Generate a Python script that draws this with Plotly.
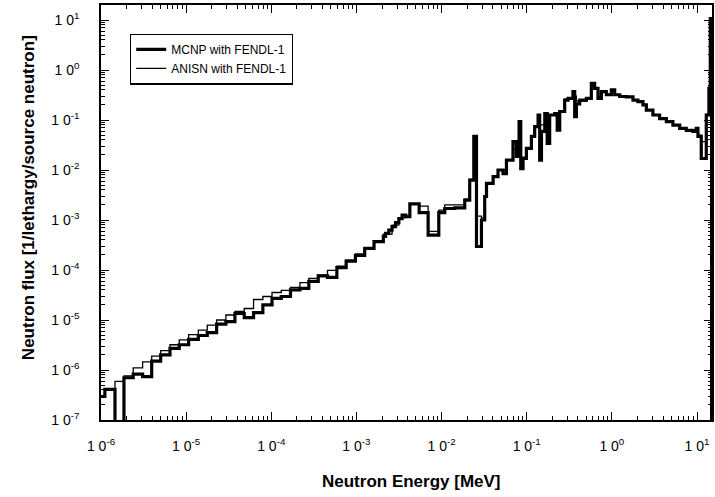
import plotly.graph_objects as go

# ---- data (energy bin edges in MeV, flux per bin) ----
mcnp_edges = [
    1.0e-6, 1.11e-6, 1.46e-6, 1.86e-6, 2.39e-6, 3.08e-6, 3.94e-6, 5.02e-6, 6.46e-6, 8.30e-6,
    1.07e-5, 1.39e-5, 1.77e-5, 2.28e-5, 2.93e-5, 3.74e-5, 4.81e-5, 6.19e-5, 7.96e-5,
    1.02e-4, 1.31e-4, 1.68e-4, 2.17e-4, 2.76e-4, 3.56e-4, 4.57e-4, 5.89e-4, 7.57e-4, 9.73e-4,
    1.25e-3, 1.61e-3, 2.07e-3, 2.20e-3, 2.40e-3, 2.62e-3, 2.88e-3, 3.15e-3, 3.44e-3, 3.80e-3, 4.24e-3,
    5.45e-3, 6.95e-3, 9.27e-3, 1.09e-2, 1.43e-2, 1.87e-2, 2.14e-2, 2.39e-2, 2.57e-2, 2.94e-2,
    3.21e-2, 3.37e-2, 4.03e-2, 4.60e-2, 5.27e-2, 5.78e-2, 6.90e-2, 7.57e-2, 8.13e-2, 8.51e-2,
    9.06e-2, 9.91e-2,
    0.1135, 0.124, 0.136, 0.142, 0.149, 0.163, 0.174, 0.186, 0.213, 0.228, 0.244, 0.279,
    0.306, 0.349, 0.366, 0.383, 0.419, 0.502, 0.574, 0.628, 0.687, 0.753, 0.861, 0.986,
    1.079, 1.236, 1.479, 1.770, 2.023, 2.317, 2.541, 3.034, 3.639, 4.365, 5.212, 6.252,
    7.482, 8.954, 9.817, 10.26, 11.22, 12.85, 13.80, 14.32, 14.83, 20.0,
]
mcnp_flux = [
    2.95e-7, 4.1e-7, 1e-10, 7.0e-7, 8.3e-7, 7.4e-7, 1.5e-6, 2.0e-6, 2.7e-6,
    3.2e-6, 4.1e-6, 4.9e-6, 5.6e-6, 8.3e-6, 9.3e-6, 1.35e-5, 1.12e-5, 1.41e-5,
    2.0e-5, 2.7e-5, 2.95e-5, 4.0e-5, 4.3e-5, 5.9e-5, 7.6e-5, 7.1e-5, 1.12e-4, 1.51e-4,
    1.95e-4, 2.7e-4, 3.7e-4, 4.7e-4, 5.4e-4, 6.3e-4, 7.4e-4, 8.9e-4, 1.07e-3, 1.26e-3, 1.17e-3,
    2.1e-3, 1.41e-3, 5.0e-4, 1.41e-3, 1.7e-3, 1.75e-3, 2.5e-3, 6.3e-3, 4.7e-2, 2.95e-4,
    1.0e-3, 2.95e-3, 5.4e-3, 7.4e-3, 1.0e-2, 8.5e-3, 1.58e-2, 3.7e-2, 1.86e-2, 9.3e-2,
    1.07e-2, 1.7e-2,
    2.7e-2, 4.7e-2, 7.4e-2, 0.126, 1.58e-2, 5.9e-2, 0.135, 3.4e-2, 0.126, 0.135, 6.3e-2,
    0.148, 0.25, 0.27, 0.37, 0.117, 0.21, 0.25, 0.27, 0.54, 0.43, 0.27, 0.37, 0.32,
    0.40, 0.32, 0.295, 0.29, 0.25, 0.234, 0.20, 0.158, 0.126, 0.107, 0.093, 0.079,
    0.068, 0.062, 0.059, 0.068, 0.047, 0.017, 0.126, 0.43, 10.7, 1e-10,
]

anisn_edges = [
    1.0e-6, 1.11e-6, 1.46e-6, 1.86e-6, 2.39e-6, 3.08e-6, 3.94e-6, 5.02e-6, 6.46e-6, 8.30e-6,
    1.07e-5, 1.39e-5, 1.77e-5, 2.28e-5, 2.93e-5, 3.74e-5, 4.81e-5, 6.19e-5, 7.96e-5,
    1.02e-4, 1.31e-4, 1.68e-4, 2.17e-4, 2.76e-4, 3.56e-4, 4.57e-4, 5.89e-4, 7.57e-4, 9.73e-4,
    1.25e-3, 1.61e-3, 2.07e-3, 2.62e-3, 3.15e-3, 3.80e-3, 4.24e-3,
    5.45e-3, 6.95e-3, 9.27e-3, 1.09e-2, 1.87e-2, 2.14e-2, 2.39e-2, 2.57e-2, 2.94e-2, 3.21e-2,
    3.37e-2, 4.03e-2, 4.60e-2, 5.78e-2, 6.90e-2, 8.51e-2, 9.91e-2,
    0.1135, 0.124, 0.136, 0.163, 0.186, 0.244, 0.279, 0.349, 0.383, 0.502, 0.574, 0.628,
    0.687, 0.753, 0.861, 0.986,
    1.079, 1.236, 1.770, 2.023, 2.317, 2.541, 3.034, 3.639, 4.365, 5.212, 6.252, 7.482,
    8.954, 9.817, 10.26, 11.22, 12.85, 13.80, 14.32, 14.83, 20.0,
]
anisn_flux = [
    3.0e-7, 4.0e-7, 5.9e-7, 7.6e-7, 1.1e-6, 1.45e-6, 1.9e-6, 2.45e-6, 3.2e-6,
    4.0e-6, 5.1e-6, 6.3e-6, 7.9e-6, 1.0e-5, 1.26e-5, 1.48e-5, 1.7e-5, 2.57e-5,
    2.95e-5, 3.55e-5, 3.9e-5, 4.5e-5, 5.6e-5, 6.8e-5, 7.9e-5, 9.8e-5, 1.2e-4, 1.58e-4,
    2.1e-4, 2.8e-4, 3.8e-4, 5.2e-4, 7.9e-4, 1.12e-3, 1.2e-3,
    2.1e-3, 1.9e-3, 5.9e-4, 1.58e-3, 2.0e-3, 2.6e-3, 6.5e-3, 3.5e-2, 1.2e-3, 1.1e-3,
    3.0e-3, 5.6e-3, 7.6e-3, 1.0e-2, 1.6e-2, 2.6e-2, 1.8e-2,
    2.8e-2, 4.8e-2, 7.2e-2, 8.0e-2, 0.11, 0.125, 0.15, 0.26, 0.30, 0.24, 0.28, 0.50,
    0.42, 0.30, 0.36, 0.33,
    0.38, 0.32, 0.29, 0.25, 0.235, 0.205, 0.16, 0.128, 0.108, 0.094, 0.08, 0.069,
    0.062, 0.06, 0.066, 0.05, 0.037, 0.13, 0.45, 10.0, 1e-10,
]

x_tick_vals = [1e-6, 1e-5, 1e-4, 1e-3, 1e-2, 1e-1, 1e0, 1e1]
x_tick_text = ["1 0<sup>-6</sup>", "1 0<sup>-5</sup>", "1 0<sup>-4</sup>", "1 0<sup>-3</sup>",
               "1 0<sup>-2</sup>", "1 0<sup>-1</sup>", "1 0<sup>0</sup>", "1 0<sup>1</sup>"]
y_tick_vals = [1e-7, 1e-6, 1e-5, 1e-4, 1e-3, 1e-2, 1e-1, 1e0, 1e1]
y_tick_text = ["1 0<sup>-7</sup>", "1 0<sup>-6</sup>", "1 0<sup>-5</sup>", "1 0<sup>-4</sup>",
               "1 0<sup>-3</sup>", "1 0<sup>-2</sup>", "1 0<sup>-1</sup>", "1 0<sup>0</sup>",
               "1 0<sup>1</sup>"]

FONT = "Liberation Sans, Arial, sans-serif"

fig = go.Figure()
fig.add_trace(go.Scatter(
    x=mcnp_edges, y=mcnp_flux + [mcnp_flux[-1]], mode="lines", line_shape="hv",
    name="MCNP with FENDL-1", line=dict(color="black", width=3.2)))
fig.add_trace(go.Scatter(
    x=anisn_edges, y=anisn_flux + [anisn_flux[-1]], mode="lines", line_shape="hv",
    name="ANISN with FENDL-1", line=dict(color="black", width=1.3)))

x_minor = [m * 10.0 ** e for e in range(-6, 2) for m in range(2, 10)]
y_minor = [m * 10.0 ** e for e in range(-7, 2) for m in range(2, 10)]

fig.update_xaxes(
    type="log", range=[-6, 1.176], tickmode="array", tickvals=x_tick_vals, ticktext=x_tick_text,
    ticks="inside", ticklen=8, tickwidth=1.2, tickcolor="black",
    minor=dict(tickmode="array", tickvals=x_minor, ticks="inside", ticklen=4, tickcolor="black", showgrid=False),
    showline=True, linecolor="black", linewidth=1.5, mirror="allticks",
    showgrid=False, zeroline=False, ticklabelstandoff=12, automargin=False,
    tickfont=dict(family=FONT, size=14, color="black"),
)
fig.update_yaxes(
    type="log", range=[-7, 1.3], tickmode="array", tickvals=y_tick_vals, ticktext=y_tick_text,
    ticks="inside", ticklen=8, tickwidth=1.2, tickcolor="black",
    minor=dict(tickmode="array", tickvals=y_minor, ticks="inside", ticklen=4, tickcolor="black", showgrid=False),
    showline=True, linecolor="black", linewidth=1.5, mirror="allticks",
    showgrid=False, zeroline=False, ticklabelstandoff=17, automargin=False,
    tickfont=dict(family=FONT, size=14, color="black"),
)

fig.update_layout(
    width=715, height=497,
    margin=dict(l=101, r=3, t=5, b=77, autoexpand=False),
    paper_bgcolor="white", plot_bgcolor="white",
    font=dict(family=FONT, color="black"),
    showlegend=True,
    legend=dict(x=0.0475, y=0.931, xanchor="left", yanchor="top",
                bordercolor="black", borderwidth=1.2, bgcolor="white",
                font=dict(family=FONT, size=12, color="black"),
                tracegroupgap=0, itemwidth=30),
    annotations=[
        dict(text="<b>Neutron Energy [MeV]</b>", xref="paper", yref="paper",
             x=0.509, y=-0.149, xanchor="center", yanchor="middle", showarrow=False,
             font=dict(family=FONT, size=17, color="black")),
        dict(text="<b>Neutron flux [1/lethargy/source neutron]</b>", xref="paper", yref="paper",
             x=-0.1195, y=0.537, xanchor="center", yanchor="middle", showarrow=False, textangle=-90,
             font=dict(family=FONT, size=17, color="black")),
    ],
)

fig.write_html("out.html", config={"responsive": False, "displayModeBar": False},
               post_script="document.body.style.margin='0px';document.body.style.overflow='hidden';")
